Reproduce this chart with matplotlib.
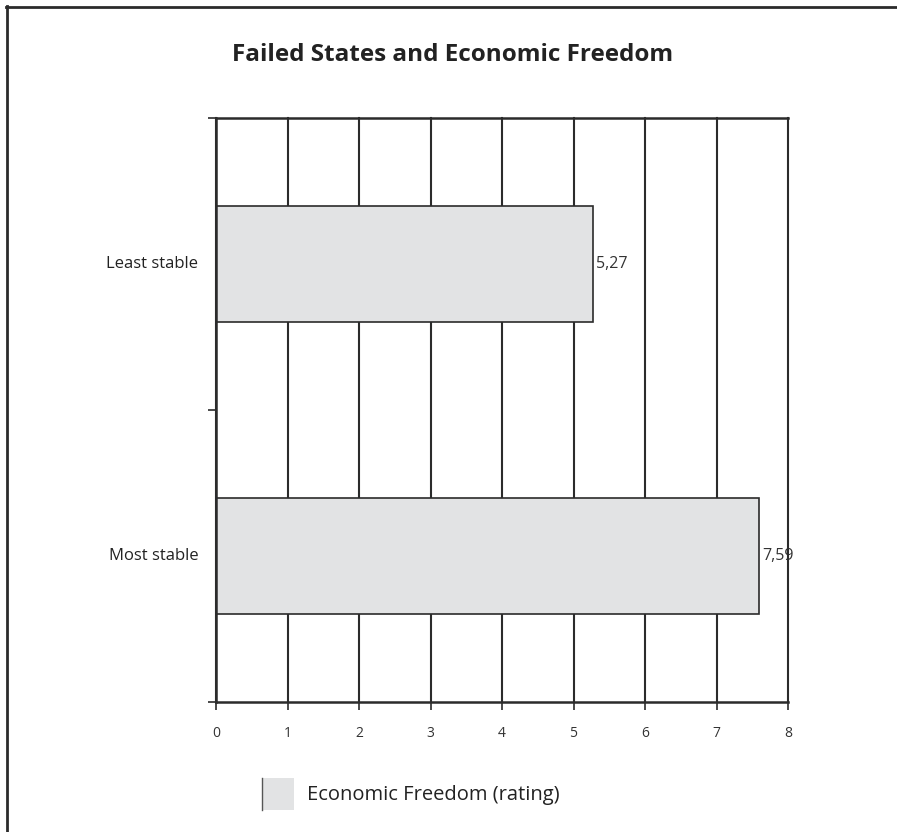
import matplotlib.pyplot as plt
from matplotlib.lines import Line2D
from matplotlib.patches import Rectangle

# data
categories = ["Least stable", "Most stable"]
values = [5.27, 7.59]
value_labels = ["5,27", "7,59"]
series_name = "Economic Freedom (rating)"
title = "Failed States and Economic Freedom"

plt.rcParams['font.family'] = ['Open Sans', 'DejaVu Sans']
dark = '#2b2b2b'
bar_col = '#e2e3e4'

fig = plt.figure(figsize=(8.97, 8.32), dpi=100)
ax = fig.add_axes([216 / 897, 1 - 702 / 832, 572 / 897, 584 / 832])

pos = list(range(len(categories)))
ax.barh(pos, values, height=0.4, color=bar_col, edgecolor=dark, linewidth=1.2, zorder=3)

ax.set_xlim(0, 8)
ax.set_ylim(1.5, -0.5)
ax.set_xticks(range(0, 9))
ax.set_yticks([-0.5, 0.5, 1.5])
ax.set_yticklabels([])
ax.tick_params(axis='x', direction='out', length=6, width=1.2, color=dark,
               labelsize=10, labelcolor='#333333', pad=11)
ax.tick_params(axis='y', direction='out', length=6, width=1.2, color=dark)
ax.grid(axis='x', color=dark, linewidth=1.5, zorder=4)
for gl in ax.get_xgridlines():
    gl.set_clip_on(False)
ax.set_axisbelow(False)
for s in ['left', 'bottom', 'top']:
    ax.spines[s].set_color(dark)
    ax.spines[s].set_linewidth(1.8)
    ax.spines[s].set_zorder(5)
ax.spines['right'].set_visible(False)

for p, v, lab in zip(pos, values, value_labels):
    ax.text(v + 0.05, p, lab, va='center', ha='left', fontsize=11.5, color='#333333', zorder=2)
for p, c in zip(pos, categories):
    ax.text(-0.25, p, c, va='center', ha='right', fontsize=12, color='#222222')

fig.text(453 / 897, 1 - 55 / 832, title, ha='center', va='center',
         fontsize=17.5, fontweight='bold', color='#222222')

# legend
fig.patches.append(Rectangle((262 / 897, 1 - 810 / 832), 32 / 897, 32 / 832,
                             transform=fig.transFigure, facecolor=bar_col, edgecolor='none'))
fig.lines.append(Line2D([262 / 897, 262 / 897], [1 - 810 / 832, 1 - 778 / 832],
                        transform=fig.transFigure, color='#555555', linewidth=1))
fig.text(307 / 897, 1 - 795 / 832, series_name, ha='left', va='center',
         fontsize=14.5, color='#222222')

# frame
fig.lines.append(Line2D([7 / 897, 7 / 897], [0, 1 - 6 / 832], transform=fig.transFigure,
                        color=dark, linewidth=2))
fig.lines.append(Line2D([6 / 897, 1], [1 - 7 / 832, 1 - 7 / 832], transform=fig.transFigure,
                        color=dark, linewidth=2))

fig.savefig('out.png', dpi=100)
